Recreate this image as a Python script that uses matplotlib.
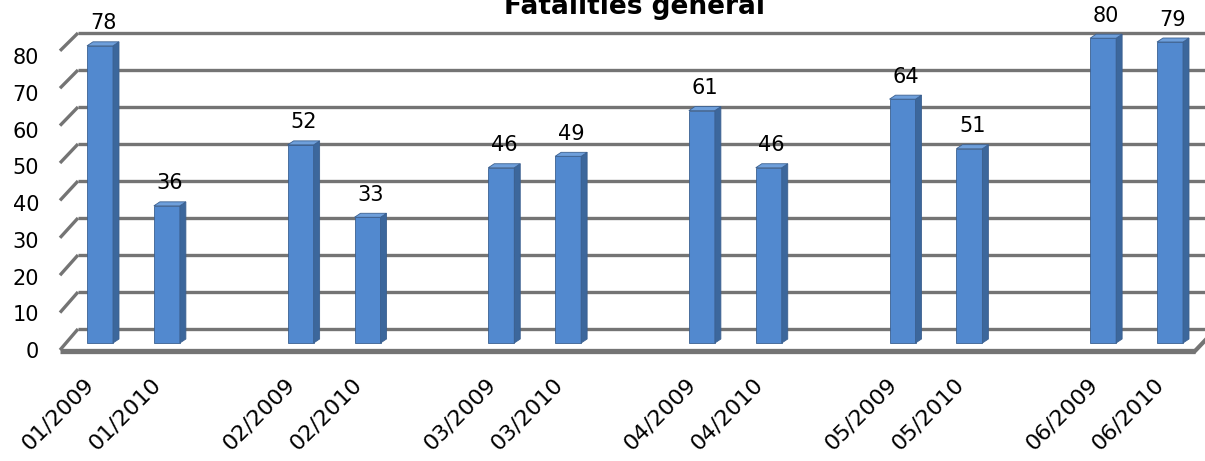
import matplotlib
matplotlib.use("Agg")
import matplotlib.pyplot as plt
from matplotlib.patches import Polygon

# ---- data -------------------------------------------------------------
categories = ["01/2009", "01/2010", "", "02/2009", "02/2010", "",
              "03/2009", "03/2010", "", "04/2009", "04/2010", "",
              "05/2009", "05/2010", "", "06/2009", "06/2010"]
values = [78, 36, None, 52, 33, None, 46, 49, None,
          61, 46, None, 64, 51, None, 80, 79]
y_ticks = [0, 10, 20, 30, 40, 50, 60, 70, 80]
title = "Fatalities general"

# ---- geometry (pixel based projection of the 3-D box) ------------------
W, H = 1205, 461
DPI = 100
X0_PX, SLOT_PX = 100.0, 66.875     # first category centre and slot width
BASE_PX, SCALE_PX = 343.0, 3.81    # bar base line and px per unit

fig = plt.figure(figsize=(W / DPI, H / DPI), dpi=DPI)
ax = fig.add_axes([0, 0, 1, 1])
ax.set_xlim(-X0_PX / SLOT_PX, (W - X0_PX) / SLOT_PX)
ax.set_ylim((BASE_PX - H) / SCALE_PX, BASE_PX / SCALE_PX)
ax.axis("off")


def px_x(px):
    return (px - X0_PX) / SLOT_PX


def px_y(py):
    return (BASE_PX - py) / SCALE_PX


dx = 1 / SLOT_PX
dy = 1 / SCALE_PX

FONT = "DejaVu Sans"
GRID = "#747474"

# back wall gridlines and left slanted ticks
for v in y_ticks:
    back_py = 329 - 3.70 * v
    front_py = 350 - 3.74 * v
    ax.plot([px_x(78), px_x(W + 20)], [px_y(back_py)] * 2,
            color=GRID, lw=2.4, solid_capstyle="butt", zorder=1)
    ax.plot([px_x(60), px_x(78)], [px_y(front_py), px_y(back_py)],
            color=GRID, lw=2.4, solid_capstyle="butt", zorder=1)
    ax.text(px_x(39), px_y(352 - 3.675 * v), str(v), ha="right",
            va="center", fontsize=15, family=FONT, color="#000000")

# floor slab front edge and right slant
ax.plot([px_x(60), px_x(1195)], [px_y(351)] * 2, color=GRID, lw=3.8,
        solid_capstyle="butt", zorder=1)
ax.plot([px_x(1195), px_x(1216)], [px_y(351), px_y(329)], color=GRID,
        lw=3.0, zorder=1)

# bars with side and top faces
FRONT, SIDE, TOP, EDGE = "#5289cf", "#3c679c", "#6e9fdb", "#3b6090"
BAR_W = 26 * dx
DEP_X, DEP_Y = 6 * dx, 4 * dy
for i, v in enumerate(values):
    if v is None:
        continue
    xl, xr = i - BAR_W / 2, i + BAR_W / 2
    ax.bar(i, v, width=BAR_W, color=FRONT, edgecolor=EDGE, lw=0.6,
           zorder=3)
    ax.add_patch(Polygon([(xr, 0), (xr + DEP_X, DEP_Y),
                          (xr + DEP_X, v + DEP_Y), (xr, v)],
                         closed=True, fc=SIDE, ec=EDGE, lw=0.6, zorder=3))
    ax.add_patch(Polygon([(xl, v), (xl + DEP_X, v + DEP_Y),
                          (xr + DEP_X, v + DEP_Y), (xr, v)],
                         closed=True, fc=TOP, ec=EDGE, lw=0.6, zorder=3))
    ax.annotate(str(v), xy=(i + 3 * dx, v), xytext=(0, 9),
                textcoords="offset points", ha="center", va="bottom",
                fontsize=15, family=FONT, color="#000000", zorder=4)

# rotated category labels
for i, lab in enumerate(categories):
    if not lab:
        continue
    ax.text(i - 16 * dx, px_y(374), lab, rotation=45, ha="right", va="top",
            rotation_mode="anchor", fontsize=16, family=FONT,
            color="#000000")

fig.text(634 / W, 1 - 14 / H, title, ha="center", va="baseline",
         fontsize=19, fontweight="bold", family=FONT, color="#000000")

fig.savefig("out.png", dpi=DPI, facecolor="white")
